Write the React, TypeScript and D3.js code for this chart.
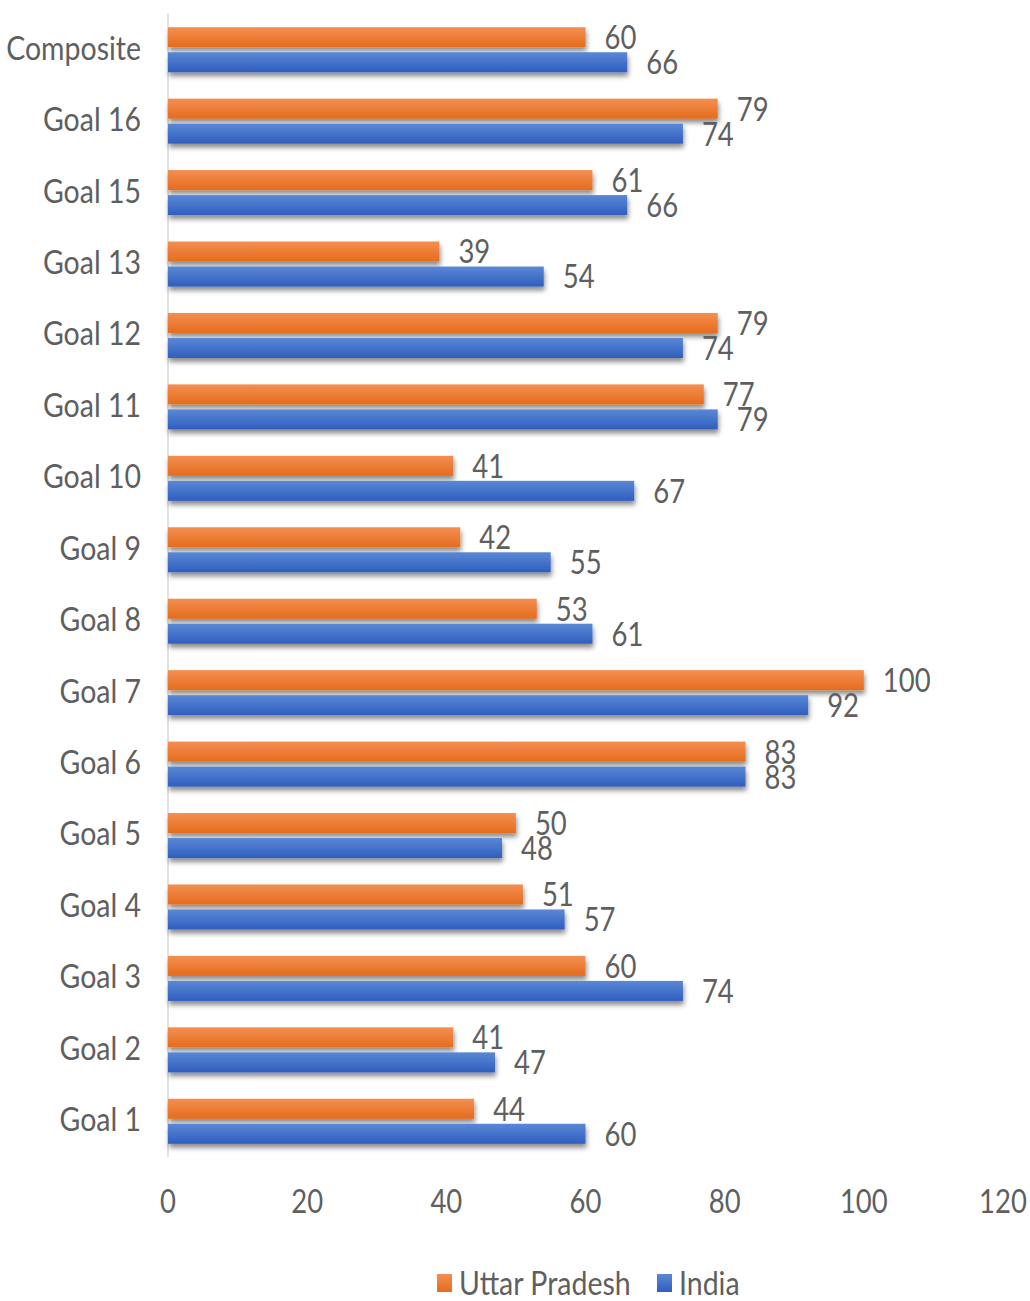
import { useEffect, useRef } from "react";
import * as d3 from "d3";

// SDG index scores, Uttar Pradesh vs India (top to bottom as drawn)
const categories = [
  "Composite", "Goal 16", "Goal 15", "Goal 13", "Goal 12", "Goal 11", "Goal 10", "Goal 9",
  "Goal 8", "Goal 7", "Goal 6", "Goal 5", "Goal 4", "Goal 3", "Goal 2", "Goal 1",
];
const upScores = [60, 79, 61, 39, 79, 77, 41, 42, 53, 100, 83, 50, 51, 60, 41, 44];
const indiaScores = [66, 74, 66, 54, 74, 79, 67, 55, 61, 92, 83, 48, 57, 74, 47, 60];
const seriesNames = ["Uttar Pradesh", "India"];
const xTicks = [0, 20, 40, 60, 80, 100, 120];

const FONT = "Lato, 'Open Sans', sans-serif";
const TEXT = "#5f5f5f";
const STRETCH = 1.18; // source text is tall and narrow

export default function App() {
  const svgRef = useRef<SVGSVGElement | null>(null);

  useEffect(() => {
    document.body.style.margin = "0";
    const svg = d3.select(svgRef.current);
    svg.selectAll("*").remove();

    const W = 1030;
    const H = 1301;
    const left = 168;
    const top = 14;
    const plotW = 1003 - left;
    const plotH = 1157 - top;

    const defs = svg.append("defs");
    const grad = (id: string, c1: string, c2: string) => {
      const lg = defs.append("linearGradient").attr("id", id)
        .attr("x1", 0).attr("y1", 0).attr("x2", 0).attr("y2", 1);
      lg.append("stop").attr("offset", "0%").attr("stop-color", c1);
      lg.append("stop").attr("offset", "100%").attr("stop-color", c2);
    };
    grad("gUP", "#F38F52", "#E56C1C");
    grad("gIN", "#5A88D6", "#2F5EBE");
    defs.append("filter").attr("id", "shadow")
      .attr("x", "-5%").attr("y", "-40%").attr("width", "110%").attr("height", "200%")
      .append("feDropShadow")
      .attr("dx", 1).attr("dy", 4).attr("stdDeviation", 2.5)
      .attr("flood-color", "#000").attr("flood-opacity", 0.45);

    const g = svg.attr("viewBox", `0 0 ${W} ${H}`)
      .append("g").attr("transform", `translate(${left},${top})`);

    const x = d3.scaleLinear().domain([0, 120]).range([0, plotW]);
    const y = d3.scaleBand<string>().domain(categories).range([0, plotH])
      .paddingInner(0.37).paddingOuter(0.185);
    const y1 = d3.scaleBand<string>().domain(seriesNames).range([0, y.bandwidth()])
      .paddingInner(0.2);

    const stretchText = (sel: d3.Selection<SVGTextElement, any, any, any>,
      px: (d: any, i: number) => number, py: (d: any, i: number) => number, size = 27.5) =>
      sel.attr("transform", (d, i) => `translate(${px(d, i)},${py(d, i)}) scale(1,${STRETCH})`)
        .attr("font-family", FONT).attr("font-size", size).attr("fill", TEXT)
        .attr("dominant-baseline", "central");

    // axis line
    g.append("line").attr("x1", 0).attr("x2", 0).attr("y1", 0).attr("y2", plotH)
      .attr("stroke", "#d9d9d9").attr("stroke-width", 1.5);

    const series = [
      { name: seriesNames[0], values: upScores, fill: "url(#gUP)" },
      { name: seriesNames[1], values: indiaScores, fill: "url(#gIN)" },
    ];

    series.forEach((s) => {
      const rows = categories.map((c, i) => ({ c, v: s.values[i] }));
      g.append("g").attr("filter", "url(#shadow)")
        .selectAll("rect").data(rows).join("rect")
        .attr("x", 0)
        .attr("y", (d) => y(d.c)! + y1(s.name)!)
        .attr("width", (d) => x(d.v))
        .attr("height", y1.bandwidth())
        .attr("fill", s.fill);
      stretchText(
        g.append("g").selectAll("text").data(rows).join("text").text((d) => String(d.v)),
        (d) => x(d.v) + 19,
        (d) => y(d.c)! + y1(s.name)! + y1.bandwidth() / 2 - 1,
      );
    });

    // category labels
    stretchText(
      g.append("g").selectAll("text").data(categories).join("text").text((d) => d)
        .attr("text-anchor", "end"),
      () => -27,
      (d) => y(d)! + y.bandwidth() / 2 - 3,
      28.5,
    );

    // x tick labels
    stretchText(
      g.append("g").selectAll("text").data(xTicks).join("text").text((d) => String(d))
        .attr("text-anchor", "middle"),
      (d) => x(d),
      () => plotH + 43,
    );

    // legend
    const legendY = 1283;
    const legendItems = [
      { name: seriesNames[0], fill: "url(#gUP)", x: 437 },
      { name: seriesNames[1], fill: "url(#gIN)", x: 657 },
    ];
    const lg = svg.append("g");
    lg.selectAll("rect").data(legendItems).join("rect")
      .attr("x", (d) => d.x).attr("y", legendY - 9)
      .attr("width", 15).attr("height", 18).attr("fill", (d) => d.fill);
    stretchText(
      lg.selectAll("text").data(legendItems).join("text").text((d) => d.name),
      (d) => d.x + 22,
      () => legendY - 1,
      28.5,
    );
  }, []);

  return <svg ref={svgRef} width={1030} height={1301} style={{ display: "block" }} />;
}
